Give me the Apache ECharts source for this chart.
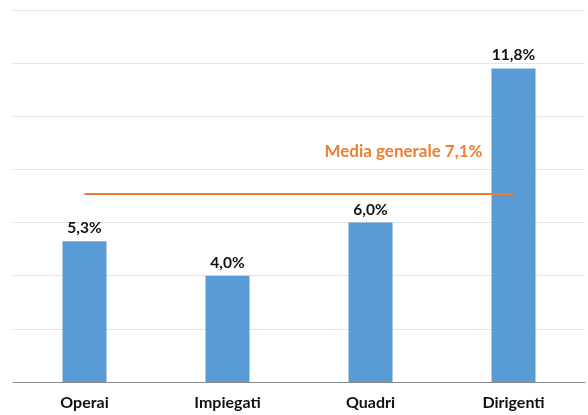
<!DOCTYPE html>
<html><head><meta charset="utf-8">
<script src="https://cdn.jsdelivr.net/npm/echarts@6/dist/echarts.min.js"></script>
<style>html,body{margin:0;padding:0;background:#fff}#c{width:588px;height:415px}</style>
</head><body><div id="c"></div>
<script>
const categories = ['Operai', 'Impiegati', 'Quadri', 'Dirigenti'];
const values = [5.3, 4.0, 6.0, 11.8];
const averageValue = 7.1;
const averageLabel = 'Media generale 7,1%';
const yTicks = { min: 0, max: 14, interval: 2 };

const fmt = v => v.toFixed(1).replace('.', ',') + '%';
const chart = echarts.init(document.getElementById('c'));
chart.setOption({
  animation: false,
  textStyle: { fontFamily: 'Lato' },
  grid: { left: 13, right: 3, top: 10, bottom: 33 },
  xAxis: {
    type: 'category', data: categories,
    axisLine: { lineStyle: { color: '#8a8a8a', width: 1 } },
    axisTick: { show: false },
    axisLabel: { color: '#111', fontWeight: 'bold', fontSize: 16, margin: 13, fontFamily: 'Lato' }
  },
  yAxis: {
    type: 'value', min: yTicks.min, max: yTicks.max, interval: yTicks.interval,
    axisLabel: { show: false }, axisLine: { show: false }, axisTick: { show: false },
    splitLine: { lineStyle: { color: '#e3e3e3', width: 1 } }
  },
  series: [{
    type: 'bar', data: values, barWidth: 44,
    itemStyle: { color: '#5B9BD5' },
    label: { show: true, position: 'top', distance: 5, color: '#111', fontWeight: 'bold', fontSize: 15.5, fontFamily: 'Lato', formatter: p => fmt(p.value) },
    markLine: {
      symbol: 'none', silent: true,
      lineStyle: { color: '#ED7D31', width: 2, type: 'solid' },
      label: { show: true, position: 'insideEndTop', formatter: averageLabel, color: '#ED7D31', fontWeight: 'bold', fontSize: 17, fontFamily: 'Lato', offset: [-26, -28] },
      data: [[{ coord: [categories[0], averageValue] }, { coord: [categories[3], averageValue] }]]
    }
  }]
});
</script></body></html>
